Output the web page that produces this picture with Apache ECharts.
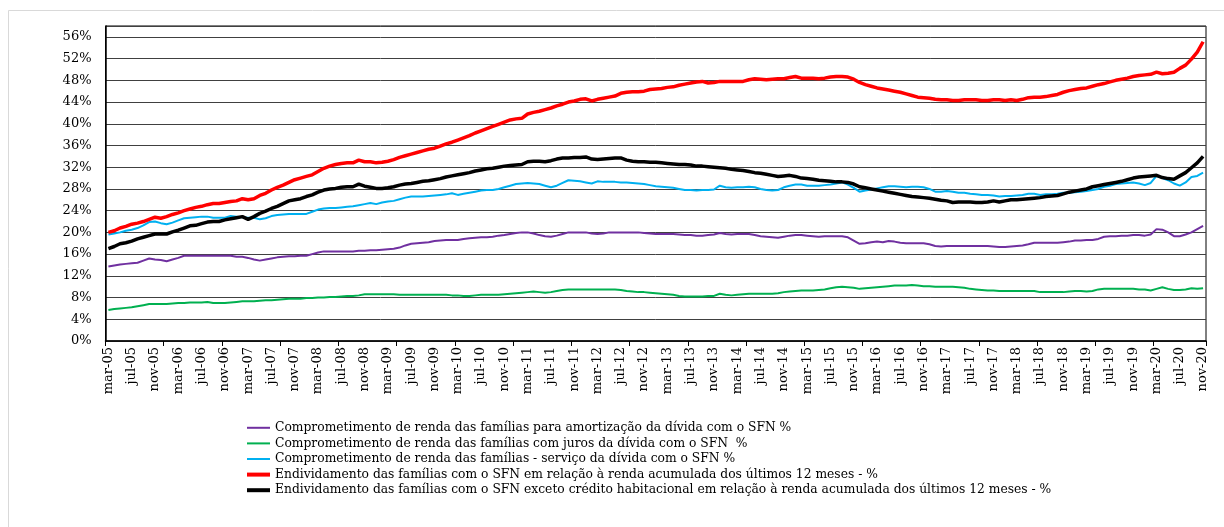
<!DOCTYPE html>
<html>
<head>
<meta charset="utf-8">
<script src="https://cdn.jsdelivr.net/npm/echarts@6/dist/echarts.min.js"></script>
<style>
html,body{margin:0;padding:0;background:#fff;}
#chart{width:1224px;height:527px;}
</style>
</head>
<body>
<div id="chart"></div>
<script>
// Category labels: monthly, mar-05 .. nov-20
const monthNames = ['jan','fev','mar','abr','mai','jun','jul','ago','set','out','nov','dez'];
const categories = [];
for (let y = 2005; y <= 2020; y++) {
  for (let m = 0; m < 12; m++) {
    if (y === 2005 && m < 2) continue;
    if (y === 2020 && m > 10) continue;
    categories.push(monthNames[m] + '-' + String(y).slice(2));
  }
}

const seriesNames = [
  'Comprometimento de renda das famílias para amortização da dívida com o SFN %',
  'Comprometimento de renda das famílias com juros da dívida com o SFN  %',
  'Comprometimento de renda das famílias - serviço da dívida com o SFN %',
  'Endividamento das famílias com o SFN em relação à renda acumulada dos últimos 12 meses - %',
  'Endividamento das famílias com o SFN exceto crédito habitacional em relação à renda acumulada dos últimos 12 meses - %'
];

const amortizacao = [
  13.7,13.9,14.1,14.2,14.3,14.4,14.8,15.2,15.0,14.9,
  14.7,15.0,15.3,15.7,15.7,15.7,15.7,15.7,15.7,15.7,
  15.7,15.7,15.5,15.5,15.3,15.0,14.8,15.0,15.2,15.4,
  15.5,15.6,15.6,15.7,15.7,16.0,16.3,16.5,16.5,16.5,
  16.5,16.5,16.5,16.6,16.6,16.7,16.7,16.8,16.9,17.0,
  17.2,17.6,17.9,18.0,18.1,18.2,18.4,18.5,18.6,18.6,
  18.6,18.8,18.9,19.0,19.1,19.1,19.2,19.4,19.5,19.7,
  19.9,20.0,20.0,19.8,19.5,19.3,19.2,19.4,19.7,20.0,
  20.0,20.0,20.0,19.8,19.7,19.8,20.0,20.0,20.0,20.0,
  20.0,20.0,19.9,19.8,19.7,19.7,19.7,19.7,19.6,19.5,
  19.5,19.4,19.4,19.5,19.6,19.9,19.7,19.6,19.7,19.7,
  19.7,19.5,19.3,19.2,19.1,19.0,19.2,19.4,19.5,19.5,
  19.4,19.3,19.2,19.3,19.3,19.3,19.3,19.1,18.5,17.9,
  18.0,18.2,18.3,18.2,18.4,18.3,18.1,18.0,18.0,18.0,
  18.0,17.8,17.5,17.4,17.5,17.5,17.5,17.5,17.5,17.5,
  17.5,17.5,17.4,17.3,17.3,17.4,17.5,17.6,17.8,18.1,
  18.1,18.1,18.1,18.1,18.2,18.3,18.5,18.5,18.6,18.6,
  18.8,19.2,19.3,19.3,19.4,19.4,19.5,19.5,19.4,19.6,
  20.6,20.5,20.0,19.3,19.3,19.6,20.0,20.6,21.2
];

const juros = [
  5.7,5.9,6.0,6.1,6.2,6.4,6.6,6.8,6.8,6.8,
  6.8,6.9,7.0,7.0,7.1,7.1,7.1,7.2,7.0,7.0,
  7.0,7.1,7.2,7.3,7.3,7.3,7.4,7.5,7.5,7.6,
  7.7,7.8,7.8,7.8,7.9,7.9,8.0,8.0,8.1,8.1,
  8.2,8.3,8.3,8.4,8.6,8.6,8.6,8.6,8.6,8.6,
  8.5,8.5,8.5,8.5,8.5,8.5,8.5,8.5,8.5,8.4,
  8.4,8.3,8.3,8.4,8.5,8.5,8.5,8.5,8.6,8.7,
  8.8,8.9,9.0,9.1,9.0,8.9,9.0,9.2,9.4,9.5,
  9.5,9.5,9.5,9.5,9.5,9.5,9.5,9.5,9.4,9.2,
  9.1,9.0,9.0,8.9,8.8,8.7,8.6,8.5,8.3,8.2,
  8.2,8.2,8.2,8.3,8.3,8.7,8.5,8.4,8.5,8.6,
  8.7,8.7,8.7,8.7,8.7,8.8,9.0,9.1,9.2,9.3,
  9.3,9.3,9.4,9.5,9.7,9.9,10.0,9.9,9.8,9.6,
  9.7,9.8,9.9,10.0,10.1,10.2,10.2,10.2,10.3,10.2,
  10.1,10.1,10.0,10.0,10.0,10.0,9.9,9.8,9.6,9.5,
  9.4,9.3,9.3,9.2,9.2,9.2,9.2,9.2,9.2,9.2,
  9.0,9.0,9.0,9.0,9.0,9.1,9.2,9.2,9.1,9.2,
  9.5,9.6,9.6,9.6,9.6,9.6,9.6,9.5,9.5,9.3,
  9.6,9.9,9.6,9.4,9.4,9.5,9.7,9.6,9.7
];

const servico = [
  19.6,19.8,20.0,20.3,20.5,20.8,21.3,21.9,22.0,21.7,
  21.5,21.8,22.2,22.6,22.7,22.8,22.9,22.9,22.7,22.7,
  22.7,23.0,22.9,22.8,22.7,22.7,22.4,22.6,23.0,23.2,
  23.3,23.4,23.4,23.4,23.4,23.8,24.2,24.4,24.5,24.5,
  24.6,24.7,24.8,25.0,25.2,25.4,25.2,25.5,25.7,25.8,
  26.1,26.4,26.6,26.6,26.6,26.7,26.8,26.9,27.0,27.2,
  26.9,27.1,27.3,27.5,27.7,27.8,27.8,28.0,28.3,28.6,
  28.9,29.0,29.1,29.0,28.9,28.6,28.3,28.6,29.1,29.6,
  29.5,29.4,29.2,29.0,29.4,29.3,29.3,29.3,29.2,29.2,
  29.1,29.0,28.9,28.7,28.5,28.4,28.3,28.2,28.0,27.8,
  27.8,27.7,27.8,27.8,27.9,28.6,28.3,28.2,28.3,28.3,
  28.4,28.3,28.0,27.8,27.7,27.8,28.3,28.6,28.8,28.8,
  28.6,28.6,28.6,28.7,28.8,29.0,29.2,28.8,28.2,27.5,
  27.7,27.9,28.1,28.3,28.5,28.5,28.4,28.3,28.4,28.4,
  28.3,28.0,27.5,27.5,27.6,27.5,27.3,27.3,27.1,27.0,
  26.9,26.9,26.8,26.6,26.7,26.7,26.8,26.9,27.1,27.1,
  26.9,27.0,27.0,27.1,27.3,27.3,27.4,27.5,27.6,27.8,
  28.0,28.4,28.6,28.9,29.0,29.1,29.2,29.0,28.7,29.1,
  30.4,30.0,29.6,29.0,28.6,29.2,30.2,30.4,31.0
];

const endividamento = [
  20.0,20.3,20.8,21.1,21.5,21.7,22.0,22.4,22.8,22.6,
  22.9,23.3,23.6,24.0,24.3,24.6,24.8,25.1,25.3,25.3,
  25.5,25.7,25.8,26.2,26.0,26.2,26.8,27.2,27.8,28.3,
  28.7,29.2,29.7,30.0,30.3,30.6,31.2,31.8,32.2,32.5,
  32.7,32.8,32.8,33.3,33.0,33.0,32.8,32.9,33.1,33.4,
  33.8,34.1,34.4,34.7,35.0,35.3,35.5,35.9,36.3,36.6,
  37.0,37.4,37.8,38.3,38.7,39.1,39.5,39.9,40.3,40.7,
  40.9,41.0,41.8,42.1,42.3,42.6,42.9,43.3,43.6,44.0,
  44.2,44.5,44.6,44.2,44.5,44.7,44.9,45.1,45.6,45.8,
  45.9,45.9,46.0,46.3,46.4,46.5,46.7,46.8,47.1,47.3,
  47.5,47.7,47.8,47.5,47.6,47.8,47.8,47.8,47.8,47.8,
  48.1,48.3,48.2,48.1,48.2,48.3,48.3,48.5,48.7,48.4,
  48.4,48.4,48.3,48.4,48.6,48.7,48.7,48.6,48.2,47.6,
  47.2,46.9,46.6,46.4,46.2,46.0,45.8,45.5,45.2,44.9,
  44.8,44.7,44.5,44.4,44.4,44.3,44.3,44.4,44.4,44.4,
  44.3,44.3,44.4,44.4,44.3,44.4,44.3,44.5,44.8,44.9,
  44.9,45.0,45.2,45.4,45.8,46.1,46.3,46.5,46.6,46.9,
  47.2,47.4,47.7,48.0,48.2,48.4,48.7,48.9,49.0,49.1,
  49.5,49.2,49.3,49.5,50.2,50.8,51.9,53.2,55.1
];

const endividamentoSemHab = [
  17.0,17.4,17.9,18.1,18.4,18.8,19.1,19.4,19.7,19.7,
  19.7,20.1,20.4,20.8,21.2,21.3,21.6,21.9,22.0,22.0,
  22.3,22.5,22.7,22.9,22.4,22.9,23.5,23.9,24.4,24.8,
  25.3,25.8,26.0,26.2,26.6,26.9,27.4,27.8,28.0,28.1,
  28.3,28.4,28.4,28.9,28.5,28.3,28.1,28.1,28.2,28.4,
  28.7,28.9,29.0,29.2,29.4,29.5,29.7,29.9,30.2,30.4,
  30.6,30.8,31.0,31.3,31.5,31.7,31.8,32.0,32.2,32.3,
  32.4,32.5,33.0,33.1,33.1,33.0,33.2,33.5,33.7,33.7,
  33.8,33.8,33.9,33.5,33.4,33.5,33.6,33.7,33.7,33.3,
  33.1,33.0,33.0,32.9,32.9,32.8,32.7,32.6,32.5,32.5,
  32.4,32.2,32.2,32.1,32.0,31.9,31.8,31.6,31.5,31.4,
  31.2,31.0,30.9,30.7,30.5,30.3,30.4,30.5,30.3,30.0,
  29.9,29.8,29.6,29.5,29.4,29.3,29.3,29.2,28.9,28.4,
  28.2,28.0,27.8,27.6,27.4,27.2,27.0,26.8,26.6,26.5,
  26.4,26.3,26.1,25.9,25.8,25.5,25.6,25.6,25.6,25.5,
  25.5,25.6,25.8,25.6,25.8,26.0,26.0,26.1,26.2,26.3,
  26.4,26.6,26.7,26.8,27.1,27.4,27.6,27.8,28.0,28.4,
  28.6,28.8,29.0,29.2,29.4,29.7,30.0,30.2,30.3,30.4,
  30.5,30.1,29.9,29.8,30.4,31.0,31.9,32.8,34.0
];

const yTicks = [0,4,8,12,16,20,24,28,32,36,40,44,48,52,56];

const FONT = 'DejaVu Serif';
const LEGEND_FONT_SIZE = 12.3;
const LEGEND_ROW = 15.6;
const LEGEND_TOP = 415;
const chart = echarts.init(document.getElementById('chart'), null, {renderer:'canvas'});

function mk(name, data, color, width) {
  return {
    name: name, type: 'line', data: data, showSymbol: false, symbol: 'none',
    lineStyle: {color: color, width: width}, itemStyle: {color: color},
    animation: false, z: 3
  };
}

function legendBlock(names, top, thick) {
  return {
    orient: 'vertical', left: 242, top: top, itemWidth: 23, itemHeight: thick, itemGap: 0,
    icon: 'rect',
    textStyle: {fontFamily: FONT, fontSize: LEGEND_FONT_SIZE, color: '#000', lineHeight: LEGEND_ROW},
    data: names, selectedMode: false
  };
}

chart.setOption({
  animation: false,
  backgroundColor: '#fff',
  grid: {left: 105.5, right: 18, top: 26, bottom: 186, show: true, borderColor: '#000', borderWidth: 1, containLabel: false},
  xAxis: {
    type: 'category', data: categories, boundaryGap: true,
    axisLine: {show: true, lineStyle: {color: '#000', width: 1.5}},
    axisTick: {show: true, interval: 9, alignWithLabel: false, length: 5, lineStyle: {color: '#000'}},
    axisLabel: {interval: 3, rotate: 90, margin: 6, color: '#000', fontFamily: FONT, fontSize: 13},
    splitLine: {show: false}
  },
  yAxis: {
    type: 'value', min: 0, max: 58, interval: 4,
    axisLine: {show: true, lineStyle: {color: '#000', width: 1.5}},
    axisTick: {show: false},
    axisLabel: {showMaxLabel: false, margin: 14, color: '#000', fontFamily: FONT, fontSize: 13,
      formatter: function (v) { return yTicks.indexOf(v) >= 0 ? v + '%' : ''; }},
    splitLine: {show: true, lineStyle: {color: '#404040', width: 1}}
  },
  legend: [
    legendBlock(seriesNames.slice(0, 3), LEGEND_TOP, 2),
    legendBlock(seriesNames.slice(3), LEGEND_TOP + 3 * LEGEND_ROW, 4)
  ],
  graphic: [
    {type: 'polyline', shape: {points: [[8.5, 527], [8.5, 10.5], [1224, 10.5]]}, style: {stroke: '#d9d9d9', lineWidth: 1, fill: null}, silent: true}
  ],
  series: [
    mk(seriesNames[0], amortizacao, '#7030A0', 2),
    mk(seriesNames[1], juros, '#00B050', 2),
    mk(seriesNames[2], servico, '#00B0F0', 2),
    mk(seriesNames[3], endividamento, '#FF0000', 3.5),
    mk(seriesNames[4], endividamentoSemHab, '#000000', 3.5)
  ]
});
</script>
</body>
</html>
